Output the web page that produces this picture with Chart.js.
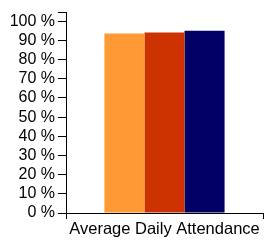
<!DOCTYPE html>
<html><head><meta charset="utf-8">
<script src="https://cdn.jsdelivr.net/npm/chart.js@4/dist/chart.umd.min.js"></script>
<style>html,body{margin:0;padding:0;background:#fff}#c{display:block}</style>
</head><body>
<canvas id="c" width="264" height="241"></canvas>
<script>
const categories = ["Average Daily Attendance"];
const seriesNames = ["Series A", "Series B", "Series C"];
const seriesValues = [[93.6], [94.1], [95.1]];
const seriesColors = ["#FF9933", "#CC3300", "#000066"];
const yTicks = [0,10,20,30,40,50,60,70,80,90,100];
const yMax = 104.5;

const font = {family: "'Liberation Sans', Arial, sans-serif", size: 16};
new Chart(document.getElementById('c'), {
  type: 'bar',
  data: {
    labels: categories,
    datasets: seriesNames.map((n,i)=>({label:n, data:seriesValues[i], backgroundColor:seriesColors[i], borderWidth:0}))
  },
  options: {
    responsive:false, animation:false,
    layout:{padding:{top:12,right:1,left:0,bottom:0}},
    plugins:{legend:{display:false}, tooltip:{enabled:false}},
    datasets:{bar:{barPercentage:1, categoryPercentage:0.61}},
    scales:{
      x:{
        grid:{display:true, drawOnChartArea:false, drawTicks:true, tickLength:6, color:'#000', offset:true},
        border:{display:true, color:'#000', width:1},
        ticks:{color:'#000', font:{family:font.family, size:16.5}, padding:1, maxRotation:0},
        afterFit(s){ s.height = 28; }
      },
      y:{
        min:0, max:yMax,
        grid:{display:true, drawOnChartArea:false, drawTicks:true, tickLength:8, color:'#000'},
        border:{display:true, color:'#000', width:1},
        afterBuildTicks(s){ s.ticks = yTicks.concat([yMax]).map(v=>({value:v})); },
        ticks:{color:'#000', font:font, padding:3, autoSkip:false,
          callback:(v)=> yTicks.includes(v) ? v + ' %' : ''},
        afterFit(s){ s.width = 66; }
      }
    }
  }
});
</script>
</body></html>
